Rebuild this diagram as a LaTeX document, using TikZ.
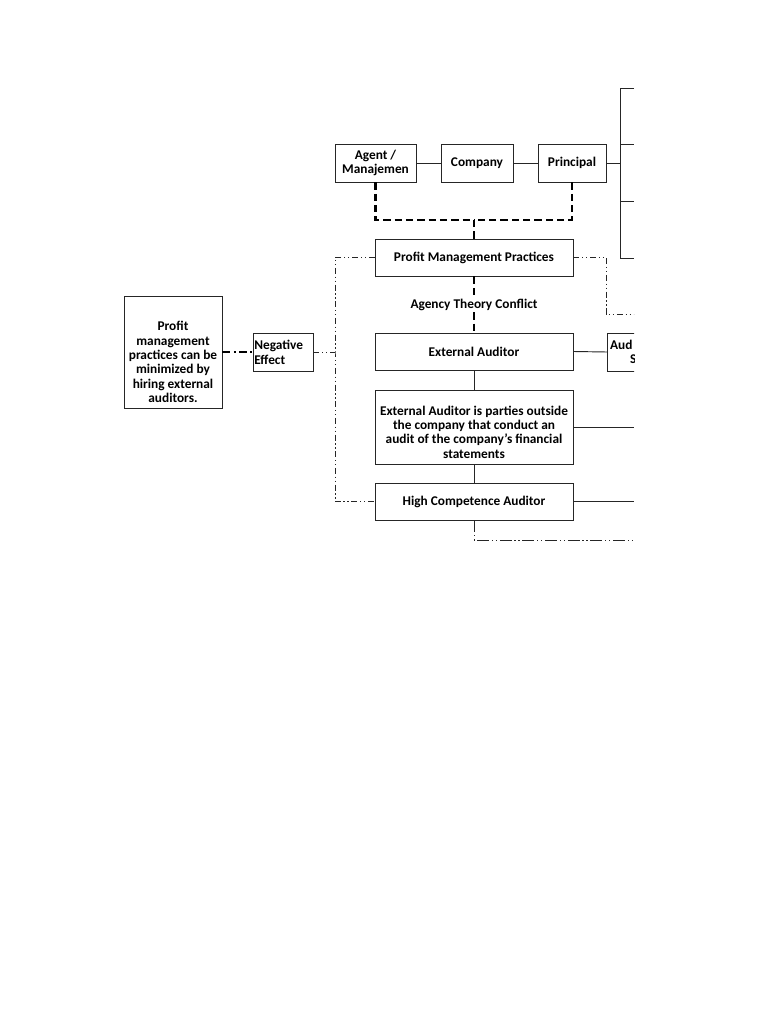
\documentclass[tikz,border=0pt]{standalone}
\usepackage{fontspec}
\setmainfont{Carlito}
\begin{document}
\begin{tikzpicture}[x=0.75pt,y=-0.75pt,
  box/.style={draw=black!85, line width=0.7pt, inner sep=1pt, align=center,
    font=\bfseries\fontsize{10}{10.8}\selectfont},
  conn/.style={draw=black!85, line width=0.7pt},
  thickdash/.style={line width=1.7pt, dash pattern=on 5.5pt off 3pt},
  dashdotdot/.style={draw=black!85, line width=0.6pt, dash pattern=on 4.5pt off 2pt on 1pt off 2pt on 1pt off 2pt},
  thickdashdot/.style={line width=1.6pt, dash pattern=on 6pt off 2.5pt on 1.5pt off 2.5pt},
  longdashdot/.style={draw=black!85, line width=0.6pt, dash pattern=on 9pt off 2pt on 1pt off 2pt on 1pt off 2pt},
  lbl/.style={inner sep=1pt, align=center, font=\bfseries\fontsize{10}{10.8}\selectfont}]
\useasboundingbox (0,0) rectangle (768,1024);
\begin{scope}
\clip (0,0) rectangle (634,1024);
% nodes
\node[box, minimum width=60.75pt, minimum height=28.5pt] (agent) at (375.5,163) {Agent /\\Manajemen};
\node[box, minimum width=54pt, minimum height=28.5pt] (company) at (477,163) {Company};
\node[box, minimum width=51pt, minimum height=28.5pt] (principal) at (572,163) {Principal};
\node[box, minimum width=148.5pt, minimum height=27.75pt] (pmp) at (474,257.5) {Profit Management Practices};
\node[lbl] (atc) at (474,305) {Agency Theory Conflict};
\node[box, minimum width=148.5pt, minimum height=27.75pt] (ea) at (474,351.5) {External Auditor};
\node[box, minimum width=148.5pt, minimum height=55.5pt] (desc) at (474,427) {};
\node[lbl] (desctext) at (474,432) {External Auditor is parties outside\\the company that conduct an\\audit of the company's financial\\statements};
\node[box, text width=43pt, align=left, minimum height=28.5pt, font=\bfseries\fontsize{10}{11.3}\selectfont] (neg) at (283,352) {Negative\\Effect};
\node[box, minimum width=148.5pt, minimum height=27.75pt] (hca) at (474,501.5) {High Competence Auditor};
\node[box, minimum width=73.5pt, minimum height=84pt] (left) at (173,352) {};
\node[lbl] (lefttext) at (173,362) {Profit\\management\\practices can be\\minimized by\\hiring external\\auditors.};
\node[box, minimum width=45pt, minimum height=28.5pt, anchor=west] (aud) at (607,352) {};
\node[lbl, anchor=west] (audt) at (608.5,345) {Aud};
\node[lbl, anchor=west] (auds) at (628.5,359) {S};
% coordinates
\coordinate (br) at (620,163);
\coordinate (bt) at (620,88);
\coordinate (bb) at (620,258);
\coordinate (mid) at (474,220);
\coordinate (rdd) at (634,314);
\coordinate (hdd) at (634,540);
\coordinate (lx) at (335,352);
% solid connectors
\draw[conn] (agent) -- (company);
\draw[conn] (company) -- (principal);
\draw[conn] (principal.east) -- (br);
\draw[conn] (634,88) -- (bt) -- (bb) -- (634,258);
\draw[conn] (620,144) -- (634,144);
\draw[conn] (620,201) -- (634,201);
\draw[conn] (ea.east) -- (aud.west);
\draw[conn] (ea.south) -- (desc.north);
\draw[conn] (desc.south) -- (hca.north);
\draw[conn] (desc.east) -- (634,427);
\draw[conn] (hca.east) -- (634,501.5);
% thick dashed
\draw[thickdash] (agent.south) |- (mid);
\draw[thickdash, line width=2.1pt] (principal.south) |- (mid);
\draw[thickdash] (mid) -- (pmp.north);
\draw[thickdash] (pmp.south) -- (atc.north);
\draw[thickdash] (atc.south) -- (ea.north);
% dash dot
\draw[dashdotdot] (pmp.west) -| (lx) |- (hca.west);
\draw[dashdotdot] (neg.east) -- (lx);
\draw[dashdotdot] (pmp.east) -| (606,314) -- (rdd);
\draw[longdashdot] (hca.south) |- (hdd);
\draw[thickdashdot] (left.east) -- (neg.west);
\end{scope}
\end{tikzpicture}
\end{document}
